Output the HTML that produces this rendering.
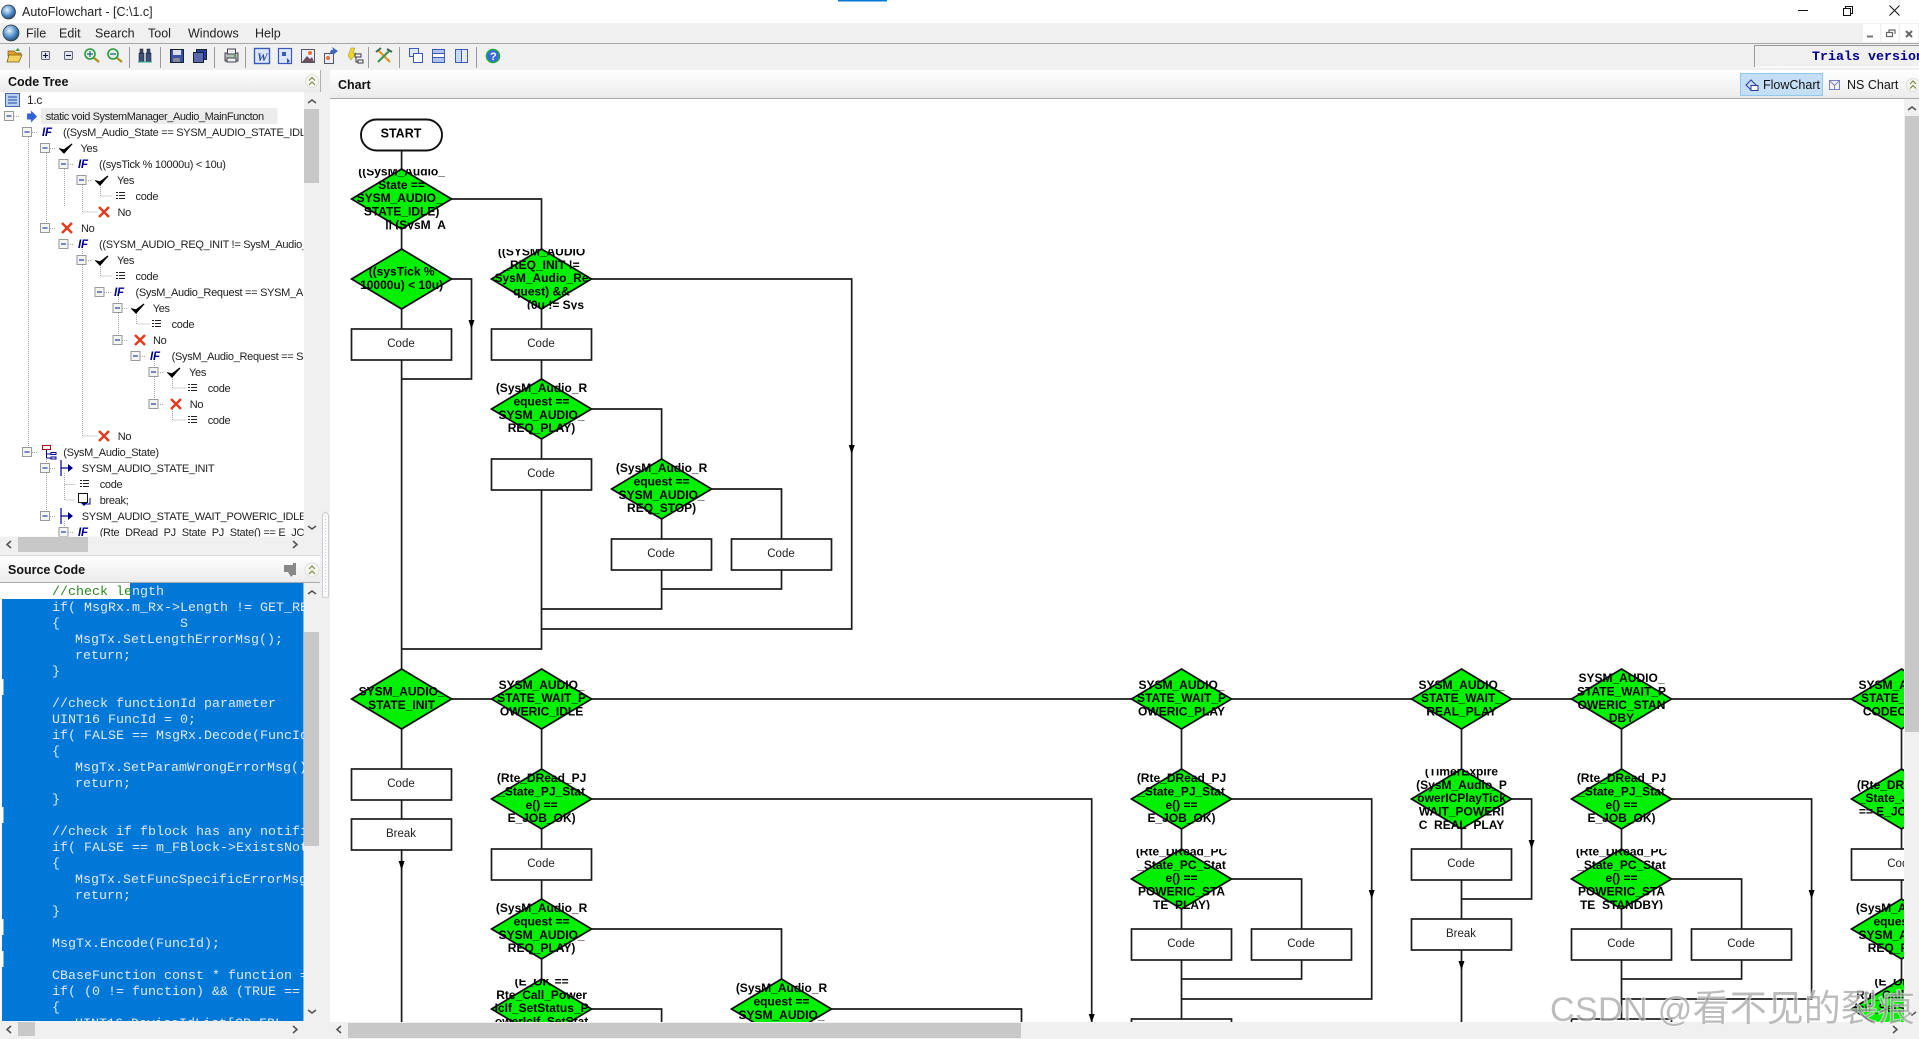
<!DOCTYPE html>
<html><head><meta charset="utf-8"><title>AutoFlowchart</title>
<style>
html,body{margin:0;padding:0;background:#fff;overflow:hidden}
svg{display:block}
text{font-family:"Liberation Sans","Noto Sans CJK SC",sans-serif;fill:#111}
.m{font-size:12.5px;fill:#222}
.b{font-weight:bold;font-size:12.5px}
.t{font-size:11px;letter-spacing:-.3px;fill:#222}
.c{font-family:"Liberation Mono",monospace;font-size:13.33px;fill:#dfeafa}
.d{font-weight:bold;font-size:12px;text-anchor:middle;fill:#000}
.x{font-size:11.5px;text-anchor:middle;fill:#222}
.f{font-weight:bold;font-style:italic;font-size:11.5px;fill:#00008b;letter-spacing:-.2px;font-family:"Liberation Sans",sans-serif}
.l{fill:none;stroke:#1c1c1c;stroke-width:1.7}
.g{fill:#00f000;stroke:#0b0b0b;stroke-width:1.7}
.r{fill:#fff;stroke:#1c1c1c;stroke-width:1.7}
.v{stroke:#a8a8a8;stroke-dasharray:1 1;stroke-width:1;fill:none}
</style></head><body>
<svg width="1919" height="1039" viewBox="0 0 1919 1039" xmlns="http://www.w3.org/2000/svg">
<defs>
<linearGradient id="hg" x1="0" y1="0" x2="0" y2="1"><stop offset="0" stop-color="#fff"/><stop offset="1" stop-color="#ebebeb"/></linearGradient>
<radialGradient id="globe" cx=".4" cy=".35" r=".7"><stop offset="0" stop-color="#e8f4ff"/><stop offset=".6" stop-color="#4a8ac8"/><stop offset="1" stop-color="#24405e"/></radialGradient>
<symbol id="e" viewBox="0 0 10 10" width="10" height="10"><rect x=".5" y=".5" width="9" height="9" fill="#f4f4f4" stroke="#999"/><path d="M2.5 5h5" stroke="#2a3f9a" stroke-width="1.2"/></symbol>
<symbol id="k" viewBox="0 0 14 14" width="14" height="14"><path d="M1 7l4 4 8-9-8 6z" fill="#000" stroke="#000" stroke-width="1.2"/></symbol>
<symbol id="n" viewBox="0 0 14 14" width="14" height="14"><path d="M2 2l10 10M12 2L2 12" stroke="#e8391c" stroke-width="2.4"/></symbol>
<symbol id="o" viewBox="0 0 10 8" width="10" height="8"><path d="M0 .5h2M0 3.5h2M0 6.5h2M3 .5h6M3 3.5h6M3 6.5h6" stroke="#222" stroke-width="1"/></symbol>
<symbol id="a" viewBox="0 0 14 16" width="14" height="16"><path d="M1 0v16" stroke="#00008b" stroke-width="1.2"/><path d="M1 8h8" stroke="#00008b" stroke-width="1.2"/><path d="M8 4l5 4-5 4z" fill="#00008b"/></symbol>
<clipPath id="tc"><rect x="0" y="92" width="303.5" height="444.500"/></clipPath>
<clipPath id="sc"><rect x="0" y="583" width="303.500" height="438"/></clipPath>
<clipPath id="cc"><rect x="332" y="99" width="1572" height="923"/></clipPath>
</defs>

<rect width="1919" height="1039" fill="#f0f0f0"/>
<!-- title bar -->
<rect width="1919" height="23" fill="#fff"/>
<rect x="838" y="0" width="49" height="1.500" fill="#0078d7"/>
<circle cx="8.500" cy="12" r="7" fill="url(#globe)" stroke="#333" stroke-width=".7"/>
<text x="22" y="16" class="m">AutoFlowchart - [C:\1.c]</text>
<path d="M1798 10.500h10" stroke="#111"/>
<path d="M1843.500 8.500h7v7h-7zM1845.500 8.500v-2h7v7h-2" fill="none" stroke="#111"/>
<path d="M1889.500 5.500l10 10M1899.500 5.500l-10 10" stroke="#111"/>
<!-- menu -->
<rect y="23" width="1919" height="20" fill="#f0f0f0"/>
<rect y="43" width="1919" height="1" fill="#a8a8a8"/>
<circle cx="11" cy="33" r="8" fill="url(#globe)" stroke="#333" stroke-width=".7"/>
<text x="26" y="37.500" class="m">File</text>
<text x="59" y="37.500" class="m">Edit</text>
<text x="95" y="37.500" class="m">Search</text>
<text x="148" y="37.500" class="m">Tool</text>
<text x="188" y="37.500" class="m">Windows</text>
<text x="255" y="37.500" class="m">Help</text>
<rect x="1863" y="24" width="17" height="18" fill="#fff"/><rect x="1881.500" y="24" width="17" height="18" fill="#fff"/><rect x="1900" y="24" width="18" height="18" fill="#fff"/>
<path d="M1867 36.500h6" stroke="#777" stroke-width="2"/>
<path d="M1886.500 32.500h6v4h-6zM1889 32v-2h6v4" fill="none" stroke="#666" stroke-width="1.200"/>
<path d="M1906 31l6 6M1912 31l-6 6" stroke="#666" stroke-width="2"/>
<!-- toolbar -->
<g stroke="#999"><path d="M29.500 47v21M129.500 47v21M160.500 47v21M214.500 47v21M245.500 47v21M368.500 47v21M399.500 47v21M476.500 47v21"/></g>
<path d="M8 51h6l2 2h5v3H8z" fill="#e0a030" stroke="#7a5a10" stroke-width=".7"/><path d="M7 62l2-7h13l-3 7z" fill="#f4d060" stroke="#7a5a10" stroke-width=".7"/><path d="M15 51l3-3 2 3" fill="#40a040"/>
<rect x="41.500" y="51.500" width="8" height="8" rx="1" fill="#dfe4ee" stroke="#667"/><path d="M43 55.500h5M45.500 53v5" stroke="#113"/>
<rect x="64.500" y="51.500" width="8" height="8" rx="1" fill="#dfe4ee" stroke="#667"/><path d="M66 55.500h5" stroke="#113"/>
<g fill="#dfeee6" stroke="#2c9a3c" stroke-width="1.600"><circle cx="90" cy="54" r="5"/><circle cx="113" cy="54" r="5"/></g>
<path d="M94 58l5 4M117 58l5 4" stroke="#b09020" stroke-width="2.400"/><path d="M87 54h6M90 51v6M110 54h6" stroke="#267" stroke-width="1.200"/>
<g fill="#3c5078" stroke="#112" stroke-width=".5"><rect x="139" y="53" width="5" height="9"/><rect x="146" y="53" width="5" height="9"/><rect x="140" y="49" width="3" height="4"/><rect x="147" y="49" width="3" height="4"/></g><path d="M138 62h14" stroke="#2a8" stroke-width="1"/>
<rect x="170.500" y="49.500" width="13" height="13" fill="#3a50a8" stroke="#123"/><rect x="173" y="50" width="8" height="5" fill="#dde"/><rect x="173" y="58" width="7" height="4" fill="#889"/>
<rect x="196.500" y="49.500" width="10" height="10" fill="#2a40a0" stroke="#123"/><rect x="193.500" y="52.500" width="10" height="10" fill="#5a68b0" stroke="#123"/>
<rect x="225" y="53" width="13" height="8" fill="#bbb" stroke="#445"/><rect x="227.500" y="49" width="8" height="5" fill="#eee" stroke="#445"/><rect x="227" y="58" width="9" height="4" fill="#eee" stroke="#445"/><circle cx="235" cy="56" r="1" fill="#2a2"/>
<rect x="254.500" y="48.500" width="15" height="15" fill="#dfe8fa" stroke="#3a5ab8" stroke-width="1.400"/><text x="257" y="61" style="font:bold italic 12px 'Liberation Serif',serif;fill:#2a4ab0">W</text>
<rect x="278.500" y="48.500" width="13" height="15" fill="#dfe6ff" stroke="#3a5ab8" stroke-width="1.200"/><path d="M282 52h4v4h-4z" fill="#3a5ab8"/><path d="M287 58l3 3-3 3z" fill="#3a5ab8"/>
<rect x="301.500" y="49.500" width="13" height="13" fill="#e8eefc" stroke="#556"/><path d="M302 62l5-6 3 3 2-2 2 5z" fill="#705058"/><circle cx="310" cy="53" r="2" fill="#e87030"/>
<rect x="324.500" y="53.500" width="9" height="10" fill="#e8eefc" stroke="#556"/><path d="M329 55l2-5h2l-1-3 6 4-5 4v-2h-1z" fill="#3a6ab8"/><circle cx="328" cy="58" r="2" fill="#e87030"/>
<path d="M348 56l3-8h4l-2 5h3l-5 7z" fill="#f0d820" stroke="#885" stroke-width=".5"/><path d="M355 54h6v3h-6zM358 60h5v3h-5z" fill="#fff" stroke="#334"/><path d="M356 57v5h2" fill="none" stroke="#334"/>
<path d="M378 50l12 12" stroke="#e89020" stroke-width="2.200"/><path d="M390 50l-12 12" stroke="#3a9a50" stroke-width="2.200"/><path d="M376 52l5-4M387 49l5 3" stroke="#3a6a50" stroke-width="2"/>
<rect x="409.500" y="48.500" width="9" height="8" fill="#dfe6ff" stroke="#3a5ab8"/><rect x="413.500" y="53.500" width="9" height="9" fill="#fff" stroke="#3a5ab8"/>
<rect x="432.500" y="49.500" width="12" height="4" fill="#b0c4f0" stroke="#3a5ab8"/><rect x="432.500" y="53.500" width="12" height="4" fill="#fff" stroke="#3a5ab8"/><rect x="432.500" y="57.500" width="12" height="5" fill="#b0c4f0" stroke="#3a5ab8"/>
<rect x="455.500" y="49.500" width="6" height="13" fill="#c8d8f4" stroke="#3a5ab8"/><rect x="461.500" y="49.500" width="6" height="13" fill="#e8eeff" stroke="#3a5ab8"/>
<circle cx="493" cy="56" r="6.500" fill="#3a6ad8" stroke="#1aaa4a" stroke-width="1.600"/><text x="490" y="60" style="font:bold 11px 'Liberation Sans';fill:#fff">?</text>
<rect x="1754" y="45" width="165" height="22" fill="#f0f0f0"/><path d="M1754.500 67V45.500H1919" fill="none" stroke="#999"/><path d="M1755 67h164" stroke="#fff"/>
<text x="1812" y="60" style="font:bold 13.33px 'Liberation Mono',monospace;fill:#00008b">Trials version</text>

<!-- left panel -->
<rect x="0" y="70" width="320" height="22" fill="url(#hg)"/>
<rect x="320" y="70" width="1" height="22" fill="#b0b0b0"/>
<text x="8" y="86" class="b">Code Tree</text>
<circle cx="312" cy="81" r="6.500" fill="#f6f6ee" stroke="#ddd"/><path d="M309 80.500l3-3 3 3M309 85l3-3 3 3" fill="none" stroke="#7a8a50" stroke-width="1.200"/>
<rect x="0" y="92" width="304" height="444.500" fill="#fff"/>
<rect x="304" y="92" width="16" height="444.500" fill="#f0f0f0"/>
<rect x="304" y="109" width="15" height="74" fill="#c8c8c8"/>
<path d="M308 103l4-3 4 3M308 526l4 3 4-3" fill="none" stroke="#555" stroke-width="1.600"/>
<rect x="0" y="536.500" width="320" height="15.500" fill="#f0f0f0"/>
<rect x="18" y="537" width="70" height="15" fill="#c8c8c8"/>
<path d="M11 541l-4 3.500 4 3.500M293 541l4 3.500-4 3.500" fill="none" stroke="#555" stroke-width="1.600"/>

<g clip-path="url(#tc)">
<rect x="41" y="108" width="236.500" height="16" fill="#ececec"/>
<g class="v">
<path d="M28.500 137V447M46.500 153V223M64.500 169V207M82.500 185V212H98M82.500 249V436H98M100.500 265V276H112M118.500 297V335M136.500 313V324H150M154.500 361V399M172.500 377V388H186M172.500 409V420H186M46.500 457V511M64.500 473V500H75M64.500 521V527"/>
<path d="M14 116.500h6M32 132.500h6M50 148.500h6M68 164.500h6M86 180.500h6M100.500 185V196H112M50 228.500h6M68 244.500h6M86 260.500h6M104 292.500h7M122 308.500h6M122 340.500h6M140 356.500h6M158 372.500h6M158 404.500h6M32 452.500h6M50 468.500h6M64.500 484.500H75M50 516.500h6M68 532.500h6"/>
</g>
<rect x="5.500" y="93.500" width="14" height="13" fill="#b8d0f4" stroke="#4a68a8"/><path d="M8 97h9M8 100h9M8 103h9" stroke="#2a4a98"/>
<text x="27" y="104" class="t" style="font-size:12px">1.c</text>
<use href="#e" x="4" y="111"/><path d="M27 113.500h4v-3l6 6-6 6v-3h-4z" fill="#3060d8" stroke="#aac" stroke-width=".4"/>
<text x="45.700" y="120" class="t" style="letter-spacing:-.42px">static void SystemManager_Audio_MainFuncton</text>
<use href="#e" x="22" y="127"/><text x="42" y="136" class="f">IF</text><text x="63" y="136" class="t">((SysM_Audio_State == SYSM_AUDIO_STATE_IDLE)</text>
<use href="#e" x="40" y="143"/><use href="#k" x="59" y="142"/><text x="80.500" y="152" class="t">Yes</text>
<use href="#e" x="58.500" y="159"/><text x="78" y="168" class="f">IF</text><text x="99" y="168" class="t">((sysTick % 10000u) &lt; 10u)</text>
<use href="#e" x="76.500" y="175"/><use href="#k" x="95" y="174"/><text x="117" y="184" class="t">Yes</text>
<use href="#o" x="116" y="192"/><text x="135.500" y="200" class="t">code</text>
<use href="#n" x="97" y="205"/><text x="117.500" y="216" class="t">No</text>
<use href="#e" x="40" y="223"/><use href="#n" x="60" y="221"/><text x="81" y="232" class="t">No</text>
<use href="#e" x="58.500" y="239"/><text x="78" y="248" class="f">IF</text><text x="99" y="248" class="t">((SYSM_AUDIO_REQ_INIT != SysM_Audio_Request) &amp;&amp;</text>
<use href="#e" x="76.500" y="255"/><use href="#k" x="95" y="254"/><text x="117" y="264" class="t">Yes</text>
<use href="#o" x="116" y="272"/><text x="135.500" y="280" class="t">code</text>
<use href="#e" x="94.500" y="287"/><text x="114" y="296" class="f">IF</text><text x="135.500" y="296" class="t">(SysM_Audio_Request == SYSM_AUDIO</text>
<use href="#e" x="112.500" y="303"/><use href="#k" x="131" y="302"/><text x="152.700" y="312" class="t">Yes</text>
<use href="#o" x="152" y="320"/><text x="171.600" y="328" class="t">code</text>
<use href="#e" x="112.500" y="335"/><use href="#n" x="133" y="333"/><text x="153" y="344" class="t">No</text>
<use href="#e" x="130.500" y="351"/><text x="150" y="360" class="f">IF</text><text x="171.600" y="360" class="t">(SysM_Audio_Request == SYSM</text>
<use href="#e" x="148.500" y="367"/><use href="#k" x="167" y="366"/><text x="189" y="376" class="t">Yes</text>
<use href="#o" x="188" y="384"/><text x="207.700" y="392" class="t">code</text>
<use href="#e" x="148.500" y="399"/><use href="#n" x="169" y="397"/><text x="189.700" y="408" class="t">No</text>
<use href="#o" x="188" y="416"/><text x="207.700" y="424" class="t">code</text>
<use href="#n" x="97" y="429"/><text x="117.700" y="440" class="t">No</text>
<use href="#e" x="22" y="447"/>
<path d="M42.500 445.500h8v4h-8z" fill="#fff" stroke="#b00020"/><path d="M46.500 450v8M46.500 454h4M46.500 458h4" stroke="#00008b" fill="none"/><path d="M51 452.500h5v2h-5zM51 457h5v2h-5z" fill="#fff" stroke="#00008b"/>
<text x="63.300" y="456" class="t">(SysM_Audio_State)</text>
<use href="#e" x="40" y="463"/><use href="#a" x="60" y="460"/><text x="81.700" y="472" class="t">SYSM_AUDIO_STATE_INIT</text>
<use href="#o" x="80" y="480"/><text x="99.700" y="488" class="t">code</text>
<path d="M78.500 493.500h9v9h-9z" fill="#fff" stroke="#111"/><path d="M90 498v6h-6" fill="none" stroke="#00008b"/><path d="M81 503l3 3 3-3z" fill="#00008b"/>
<text x="99.700" y="504" class="t">break;</text>
<use href="#e" x="40" y="511"/><use href="#a" x="60" y="508"/><text x="81.700" y="520" class="t">SYSM_AUDIO_STATE_WAIT_POWERIC_IDLE</text>
<use href="#e" x="58.500" y="527"/><text x="78" y="536" class="f">IF</text><text x="99.700" y="536" class="t">(Rte_DRead_PJ_State_PJ_State() == E_JOB_OK)</text>
</g>

<!-- source code -->
<rect x="0" y="556" width="320" height="26" fill="url(#hg)"/>
<rect x="0" y="582" width="320" height="1" fill="#aaa"/>
<rect x="0" y="555" width="320" height="1" fill="#ddd"/>
<text x="8" y="574" class="b">Source Code</text>
<path d="M284 565h9v-2h3v12h-3l-2 2-3-5h-4z" fill="#888"/>
<circle cx="312" cy="570" r="7" fill="#f6f6ee" stroke="#ddd"/><path d="M309 569l3-3 3 3M309 574l3-3 3 3" fill="none" stroke="#7a8a50" stroke-width="1.200"/>
<rect x="0" y="583" width="304" height="438" fill="#fff"/>
<rect x="2" y="583" width="301.500" height="438" fill="#0078d7"/>
<rect x="0" y="583" width="130" height="16" fill="#fff"/>
<rect x="2" y="679" width="1.500" height="16" fill="#fff"/><rect x="2" y="807" width="1.500" height="16" fill="#fff"/><rect x="2" y="919" width="1.500" height="16" fill="#fff"/><rect x="2" y="951" width="1.500" height="16" fill="#fff"/>
<g clip-path="url(#sc)" xml:space="preserve">
<text x="52" y="595" class="c" style="fill:#2a8a20">//check le</text><text x="132" y="595" class="c">ngth</text>
<text x="52" y="611" class="c">if( MsgRx.m_Rx-&gt;Length != GET_REQ</text>
<text x="52" y="627" class="c">{</text><text x="180" y="627" class="c">S</text>
<text x="75" y="643" class="c">MsgTx.SetLengthErrorMsg();</text>
<text x="75" y="659" class="c">return;</text>
<text x="52" y="675" class="c">}</text>
<text x="52" y="707" class="c">//check functionId parameter</text>
<text x="52" y="723" class="c">UINT16 FuncId = 0;</text>
<text x="52" y="739" class="c">if( FALSE == MsgRx.Decode(FuncId</text>
<text x="52" y="755" class="c">{</text>
<text x="75" y="771" class="c">MsgTx.SetParamWrongErrorMsg();</text>
<text x="75" y="787" class="c">return;</text>
<text x="52" y="803" class="c">}</text>
<text x="52" y="835" class="c">//check if fblock has any notifi</text>
<text x="52" y="851" class="c">if( FALSE == m_FBlock-&gt;ExistsNot</text>
<text x="52" y="867" class="c">{</text>
<text x="75" y="883" class="c">MsgTx.SetFuncSpecificErrorMsg</text>
<text x="75" y="899" class="c">return;</text>
<text x="52" y="915" class="c">}</text>
<text x="52" y="947" class="c">MsgTx.Encode(FuncId);</text>
<text x="52" y="979" class="c">CBaseFunction const * function =</text>
<text x="52" y="995" class="c">if( (0 != function) &amp;&amp; (TRUE ==</text>
<text x="52" y="1011" class="c">{</text>
<text x="75" y="1027" class="c">UINT16 DeviceIdList[GP_FBL</text>
</g>
<rect x="304" y="583" width="16" height="438" fill="#f0f0f0"/>
<rect x="304" y="632" width="15" height="214" fill="#c8c8c8"/>
<path d="M308 594l4-3 4 3M308 1010l4 3 4-3" fill="none" stroke="#555" stroke-width="1.600"/>
<rect x="0" y="1021" width="320" height="18" fill="#f0f0f0"/>
<rect x="18" y="1022" width="17" height="14" fill="#c8c8c8"/>
<path d="M11 1026l-4 3.500 4 3.500M293 1026l4 3.500-4 3.500" fill="none" stroke="#555" stroke-width="1.600"/>
<path d="M322.500 597V515l3-3 3 3v82l-3 .5z" fill="#fbfbfb" stroke="#ccc"/><path d="M325.500 516v78" stroke="#b8c8e0" stroke-dasharray="1 2"/>

<!-- chart panel -->
<rect x="330" y="70" width="1589" height="28" fill="url(#hg)"/>
<rect x="330" y="98" width="1589" height="1" fill="#a8a8a8"/>
<text x="338" y="89" class="b">Chart</text>
<rect x="1740.500" y="73.500" width="82" height="22" fill="#c4dff5" stroke="#90c8f0"/>
<path d="M1746 85l5-5 5 5-5 5z" fill="none" stroke="#2a3a9a"/><rect x="1751" y="85.500" width="7" height="5" fill="#fff" stroke="#2a3a9a"/>
<text x="1763" y="89" class="m" style="font-size:12.5px;fill:#111">FlowChart</text>
<rect x="1829.500" y="80.500" width="10" height="9" fill="#f4f6ff" stroke="#7a80c8"/><path d="M1829.500 80.500l5 5 5-5M1834.500 85.500v4" fill="none" stroke="#7a80c8"/>
<text x="1847" y="89" class="m" style="fill:#111">NS Chart</text>
<circle cx="1913" cy="85" r="6.500" fill="#f6f6ee" stroke="#ddd"/><path d="M1910 84l3-3 3 3M1910 88.500l3-3 3 3" fill="none" stroke="#7a8a50" stroke-width="1.200"/>

<rect x="330" y="99" width="1574" height="923" fill="#fff"/>
<rect x="1905" y="99" width="14" height="923" fill="#f0f0f0"/>
<rect x="1905" y="116" width="14" height="616" fill="#c8c8c8"/>
<path d="M1908 110l4-3 4 3M1908 1012l4 3 4-3" fill="none" stroke="#555" stroke-width="1.600"/>
<rect x="330" y="1022" width="1589" height="17" fill="#f0f0f0"/>
<rect x="348" y="1023" width="673" height="15" fill="#c8c8c8"/>
<path d="M341 1026l-4 3.500 4 3.500M1893 1026l4 3.500-4 3.500" fill="none" stroke="#555" stroke-width="1.600"/>

<g clip-path="url(#cc)">
<path class="l" d="M401.600 150V169M451.600 199H541.500V249M401.600 229V249M401.600 309V329M451.600 279H471.500V379H401.600M401.600 360V669M591.700 279H851.700V629H541.500M541.500 309V329M541.500 360V379M591.700 409H661.600V459M541.500 439V459M541.500 490V649H401.600M661.600 519V539M711.600 489H781.500V539M661.600 570V609H541.500M781.500 570V589H661.600"/>
<path class="l" d="M451.600 699H1904M401.600 729V769M401.600 800V819M401.600 850V1022M541.600 729V769M541.600 829V849M541.600 880V899M541.600 959V979M591.700 799H1091.700V1022M591.700 929H781.500V979M591.700 1009H661.600V1022M831.500 1009H1021.500V1022"/>
<path class="l" d="M1181.500 729V769M1181.500 829V849M1181.500 909V929M1181.500 960V1019M1231.500 799H1371.700V999H1181.500M1231.500 879H1301.600V929M1301.600 960V979H1181.500"/>
<path class="l" d="M1461.500 729V769M1461.500 829V849M1461.500 880V919M1461.500 950V1022M1511.500 799H1531.600V899H1461.500"/>
<path class="l" d="M1621.500 729V769M1621.500 829V849M1621.500 909V929M1621.500 960V1019M1671.500 799H1811.600V999H1621.500M1671.500 879H1741.600V929M1741.600 960V979H1621.500"/>
<path class="l" d="M1901.500 729V769M1901.500 829V849M1901.500 880V899M1901.500 959V979"/>
<g fill="#000">
<path d="M468.500 320h6l-3 9zM848.700 445h6l-3 9zM398.600 861h6l-3 9zM1088.700 1014h6l-3 9zM1368.700 890h6l-3 9zM1528.600 840h6l-3 9zM1458.500 961h6l-3 9zM1808.600 890h6l-3 9z"/>
</g>

<rect x="361" y="119.500" width="81" height="31" rx="15.500" fill="#fff" stroke="#111" stroke-width="1.900"/>
<text x="401" y="137.500" class="d" style="font-size:12.500px">START</text>

<g class="boxes">
<rect class="r" x="351.500" y="329" width="100" height="31"/><text x="401" y="347" class="x">Code</text>
<rect class="r" x="491.500" y="329" width="100" height="31"/><text x="541" y="347" class="x">Code</text>
<rect class="r" x="491.500" y="459" width="100" height="31"/><text x="541" y="477" class="x">Code</text>
<rect class="r" x="611.500" y="539" width="100" height="31"/><text x="661" y="557" class="x">Code</text>
<rect class="r" x="731.500" y="539" width="100" height="31"/><text x="781" y="557" class="x">Code</text>
<rect class="r" x="351.500" y="769" width="100" height="31"/><text x="401" y="787" class="x">Code</text>
<rect class="r" x="351.500" y="819" width="100" height="31"/><text x="401" y="837" class="x">Break</text>
<rect class="r" x="491.500" y="849" width="100" height="31"/><text x="541" y="867" class="x">Code</text>
<rect class="r" x="1131.500" y="929" width="100" height="31"/><text x="1181" y="947" class="x">Code</text>
<rect class="r" x="1251.500" y="929" width="100" height="31"/><text x="1301" y="947" class="x">Code</text>
<rect class="r" x="1131.500" y="1019" width="100" height="31"/>
<rect class="r" x="1411.500" y="849" width="100" height="31"/><text x="1461" y="867" class="x">Code</text>
<rect class="r" x="1411.500" y="919" width="100" height="31"/><text x="1461" y="937" class="x">Break</text>
<rect class="r" x="1571.500" y="929" width="100" height="31"/><text x="1621" y="947" class="x">Code</text>
<rect class="r" x="1691.500" y="929" width="100" height="31"/><text x="1741" y="947" class="x">Code</text>
<rect class="r" x="1571.500" y="1019" width="100" height="31"/>
<rect class="r" x="1851.500" y="849" width="100" height="31"/><text x="1901" y="867" class="x">Code</text>
</g>

<!-- diamonds -->
<g class="g">
<path d="M351.600 199l50-30 50 30-50 30z"/><path d="M351.600 279l50-30 50 30-50 30z"/>
<path d="M491.500 279l50-30 50 30-50 30z"/><path d="M491.500 409l50-30 50 30-50 30z"/><path d="M611.600 489l50-30 50 30-50 30z"/>
<path d="M351.600 699l50-30 50 30-50 30z"/><path d="M491.600 699l50-30 50 30-50 30z"/><path d="M491.600 799l50-30 50 30-50 30z"/><path d="M491.600 929l50-30 50 30-50 30z"/><path d="M491.600 1009l50-30 50 30-50 30z"/><path d="M731.500 1009l50-30 50 30-50 30z"/>
<path d="M1131.500 699l50-30 50 30-50 30z"/><path d="M1131.500 799l50-30 50 30-50 30z"/><path d="M1131.500 879l50-30 50 30-50 30z"/>
<path d="M1411.500 699l50-30 50 30-50 30z"/><path d="M1411.500 799l50-30 50 30-50 30z"/>
<path d="M1571.500 699l50-30 50 30-50 30z"/><path d="M1571.500 799l50-30 50 30-50 30z"/><path d="M1571.500 879l50-30 50 30-50 30z"/>
<path d="M1851.500 699l50-30 50 30-50 30z"/><path d="M1851.500 799l50-30 50 30-50 30z"/><path d="M1851.500 929l50-30 50 30-50 30z"/><path d="M1851.500 1009l50-30 50 30-50 30z"/>
</g>

<svg x="341.600" y="169" width="120" height="60.500" viewBox="0 1.500 120 60.500"><text x="60" y="7.900" class="d">((SysM_Audio_</text><text x="60" y="21.300" class="d">State ==</text><text x="58" y="34.600" class="d">SYSM_AUDIO_</text><text x="60" y="47.900" class="d">STATE_IDLE)</text><text x="74" y="61.300" class="d">|| (SysM_A</text></svg>
<svg x="341.600" y="249" width="120" height="60.500" viewBox="0 1.500 120 60.500"><text x="60" y="27.900" class="d">((sysTick %</text><text x="60" y="41.300" class="d">10000u) &lt; 10u)</text></svg>
<svg x="481.500" y="249" width="120" height="60.500" viewBox="0 1.500 120 60.500"><text x="60" y="7.900" class="d">((SYSM_AUDIO</text><text x="60" y="21.300" class="d">_REQ_INIT !=</text><text x="60" y="34.600" class="d">SysM_Audio_Re</text><text x="60" y="47.900" class="d">quest) &amp;&amp;</text><text x="74" y="61.300" class="d">(0u != Sys</text></svg>
<svg x="481.500" y="379" width="120" height="60.500" viewBox="0 1.500 120 60.500"><text x="60" y="14.600" class="d">(SysM_Audio_R</text><text x="60" y="27.900" class="d">equest ==</text><text x="60" y="41.300" class="d">SYSM_AUDIO_</text><text x="60" y="54.600" class="d">REQ_PLAY)</text></svg>
<svg x="601.600" y="459" width="120" height="60.500" viewBox="0 1.500 120 60.500"><text x="60" y="14.600" class="d">(SysM_Audio_R</text><text x="60" y="27.900" class="d">equest ==</text><text x="60" y="41.300" class="d">SYSM_AUDIO_</text><text x="60" y="54.600" class="d">REQ_STOP)</text></svg>

<svg x="341.600" y="669" width="120" height="60.500" viewBox="0 1.500 120 60.500"><text x="60" y="27.900" class="d">SYSM_AUDIO_</text><text x="60" y="41.300" class="d">STATE_INIT</text></svg>
<svg x="481.600" y="669" width="120" height="60.500" viewBox="0 1.500 120 60.500"><text x="60" y="21.300" class="d">SYSM_AUDIO_</text><text x="60" y="34.600" class="d">STATE_WAIT_P</text><text x="60" y="47.900" class="d">OWERIC_IDLE</text></svg>
<svg x="481.600" y="769" width="120" height="60.500" viewBox="0 1.500 120 60.500"><text x="60" y="14.600" class="d">(Rte_DRead_PJ</text><text x="60" y="27.900" class="d">_State_PJ_Stat</text><text x="60" y="41.300" class="d">e() ==</text><text x="60" y="54.600" class="d">E_JOB_OK)</text></svg>
<svg x="481.600" y="899" width="120" height="60.500" viewBox="0 1.500 120 60.500"><text x="60" y="14.600" class="d">(SysM_Audio_R</text><text x="60" y="27.900" class="d">equest ==</text><text x="60" y="41.300" class="d">SYSM_AUDIO_</text><text x="60" y="54.600" class="d">REQ_PLAY)</text></svg>
<svg x="481.600" y="979" width="120" height="60.500" viewBox="0 1.500 120 60.500"><text x="60" y="7.900" class="d">(E_OK ==</text><text x="60" y="21.300" class="d">Rte_Call_Power</text><text x="60" y="34.600" class="d">IcIf_SetStatus_P</text><text x="60" y="47.900" class="d">owerIcIf_SetStat</text></svg>
<svg x="721.500" y="979" width="120" height="60.500" viewBox="0 1.500 120 60.500"><text x="60" y="14.600" class="d">(SysM_Audio_R</text><text x="60" y="27.900" class="d">equest ==</text><text x="60" y="41.300" class="d">SYSM_AUDIO_</text></svg>

<svg x="1121.500" y="669" width="120" height="60.500" viewBox="0 1.500 120 60.500"><text x="60" y="21.300" class="d">SYSM_AUDIO_</text><text x="60" y="34.600" class="d">STATE_WAIT_P</text><text x="60" y="47.900" class="d">OWERIC_PLAY</text></svg>
<svg x="1121.500" y="769" width="120" height="60.500" viewBox="0 1.500 120 60.500"><text x="60" y="14.600" class="d">(Rte_DRead_PJ</text><text x="60" y="27.900" class="d">_State_PJ_Stat</text><text x="60" y="41.300" class="d">e() ==</text><text x="60" y="54.600" class="d">E_JOB_OK)</text></svg>
<svg x="1121.500" y="849" width="120" height="60.500" viewBox="0 1.500 120 60.500"><text x="60" y="7.900" class="d">(Rte_DRead_PC</text><text x="60" y="21.300" class="d">_State_PC_Stat</text><text x="60" y="34.600" class="d">e() ==</text><text x="60" y="47.900" class="d">POWERIC_STA</text><text x="60" y="61.300" class="d">TE_PLAY)</text></svg>

<svg x="1401.500" y="669" width="120" height="60.500" viewBox="0 1.500 120 60.500"><text x="60" y="21.300" class="d">SYSM_AUDIO_</text><text x="60" y="34.600" class="d">STATE_WAIT_</text><text x="60" y="47.900" class="d">REAL_PLAY</text></svg>
<svg x="1401.500" y="769" width="120" height="60.500" viewBox="0 1.500 120 60.500"><text x="60" y="7.900" class="d">(TimerExpire</text><text x="60" y="21.300" class="d">(SysM_Audio_P</text><text x="60" y="34.600" class="d">owerICPlayTick</text><text x="60" y="47.900" class="d">WAIT_POWERI</text><text x="60" y="61.300" class="d">C_REAL_PLAY</text></svg>

<svg x="1561.500" y="669" width="120" height="60.500" viewBox="0 1.500 120 60.500"><text x="60" y="14.600" class="d">SYSM_AUDIO_</text><text x="60" y="27.900" class="d">STATE_WAIT_P</text><text x="60" y="41.300" class="d">OWERIC_STAN</text><text x="60" y="54.600" class="d">DBY</text></svg>
<svg x="1561.500" y="769" width="120" height="60.500" viewBox="0 1.500 120 60.500"><text x="60" y="14.600" class="d">(Rte_DRead_PJ</text><text x="60" y="27.900" class="d">_State_PJ_Stat</text><text x="60" y="41.300" class="d">e() ==</text><text x="60" y="54.600" class="d">E_JOB_OK)</text></svg>
<svg x="1561.500" y="849" width="120" height="60.500" viewBox="0 1.500 120 60.500"><text x="60" y="7.900" class="d">(Rte_DRead_PC</text><text x="60" y="21.300" class="d">_State_PC_Stat</text><text x="60" y="34.600" class="d">e() ==</text><text x="60" y="47.900" class="d">POWERIC_STA</text><text x="60" y="61.300" class="d">TE_STANDBY)</text></svg>

<svg x="1841.500" y="669" width="120" height="60.500" viewBox="0 1.500 120 60.500"><text x="60" y="21.300" class="d">SYSM_AUDIO_</text><text x="60" y="34.600" class="d">STATE_WAIT_</text><text x="60" y="47.900" class="d">CODEC_IDLE</text></svg>
<svg x="1841.500" y="769" width="120" height="60.500" viewBox="0 1.500 120 60.500"><text x="60" y="21.300" class="d">(Rte_DRead_PJ</text><text x="60" y="34.600" class="d">_State_J_State</text><text x="60" y="47.900" class="d">== E_JOB_OK)</text></svg>
<svg x="1841.500" y="899" width="120" height="60.500" viewBox="0 1.500 120 60.500"><text x="60" y="14.600" class="d">(SysM_Audio_R</text><text x="60" y="27.900" class="d">equest ==</text><text x="60" y="41.300" class="d">SYSM_AUDIO_</text><text x="60" y="54.600" class="d">REQ_PLAY)</text></svg>
<svg x="1841.500" y="979" width="120" height="60.500" viewBox="0 1.500 120 60.500"><text x="60" y="7.900" class="d">(E_OK ==</text><text x="60" y="21.300" class="d">Rte_Call_Power</text><text x="60" y="34.600" class="d">IcIf_SetStatus_P</text></svg>
</g>

<!-- watermark -->
<text x="1550" y="1021" style="font-size:34px;fill:rgba(160,160,160,.7);stroke:rgba(255,255,255,.65);stroke-width:1.500;paint-order:stroke;letter-spacing:.4px">CSDN @<tspan style="font-size:37px;letter-spacing:0">看不见的裂痕</tspan></text>
</svg>
</body></html>
